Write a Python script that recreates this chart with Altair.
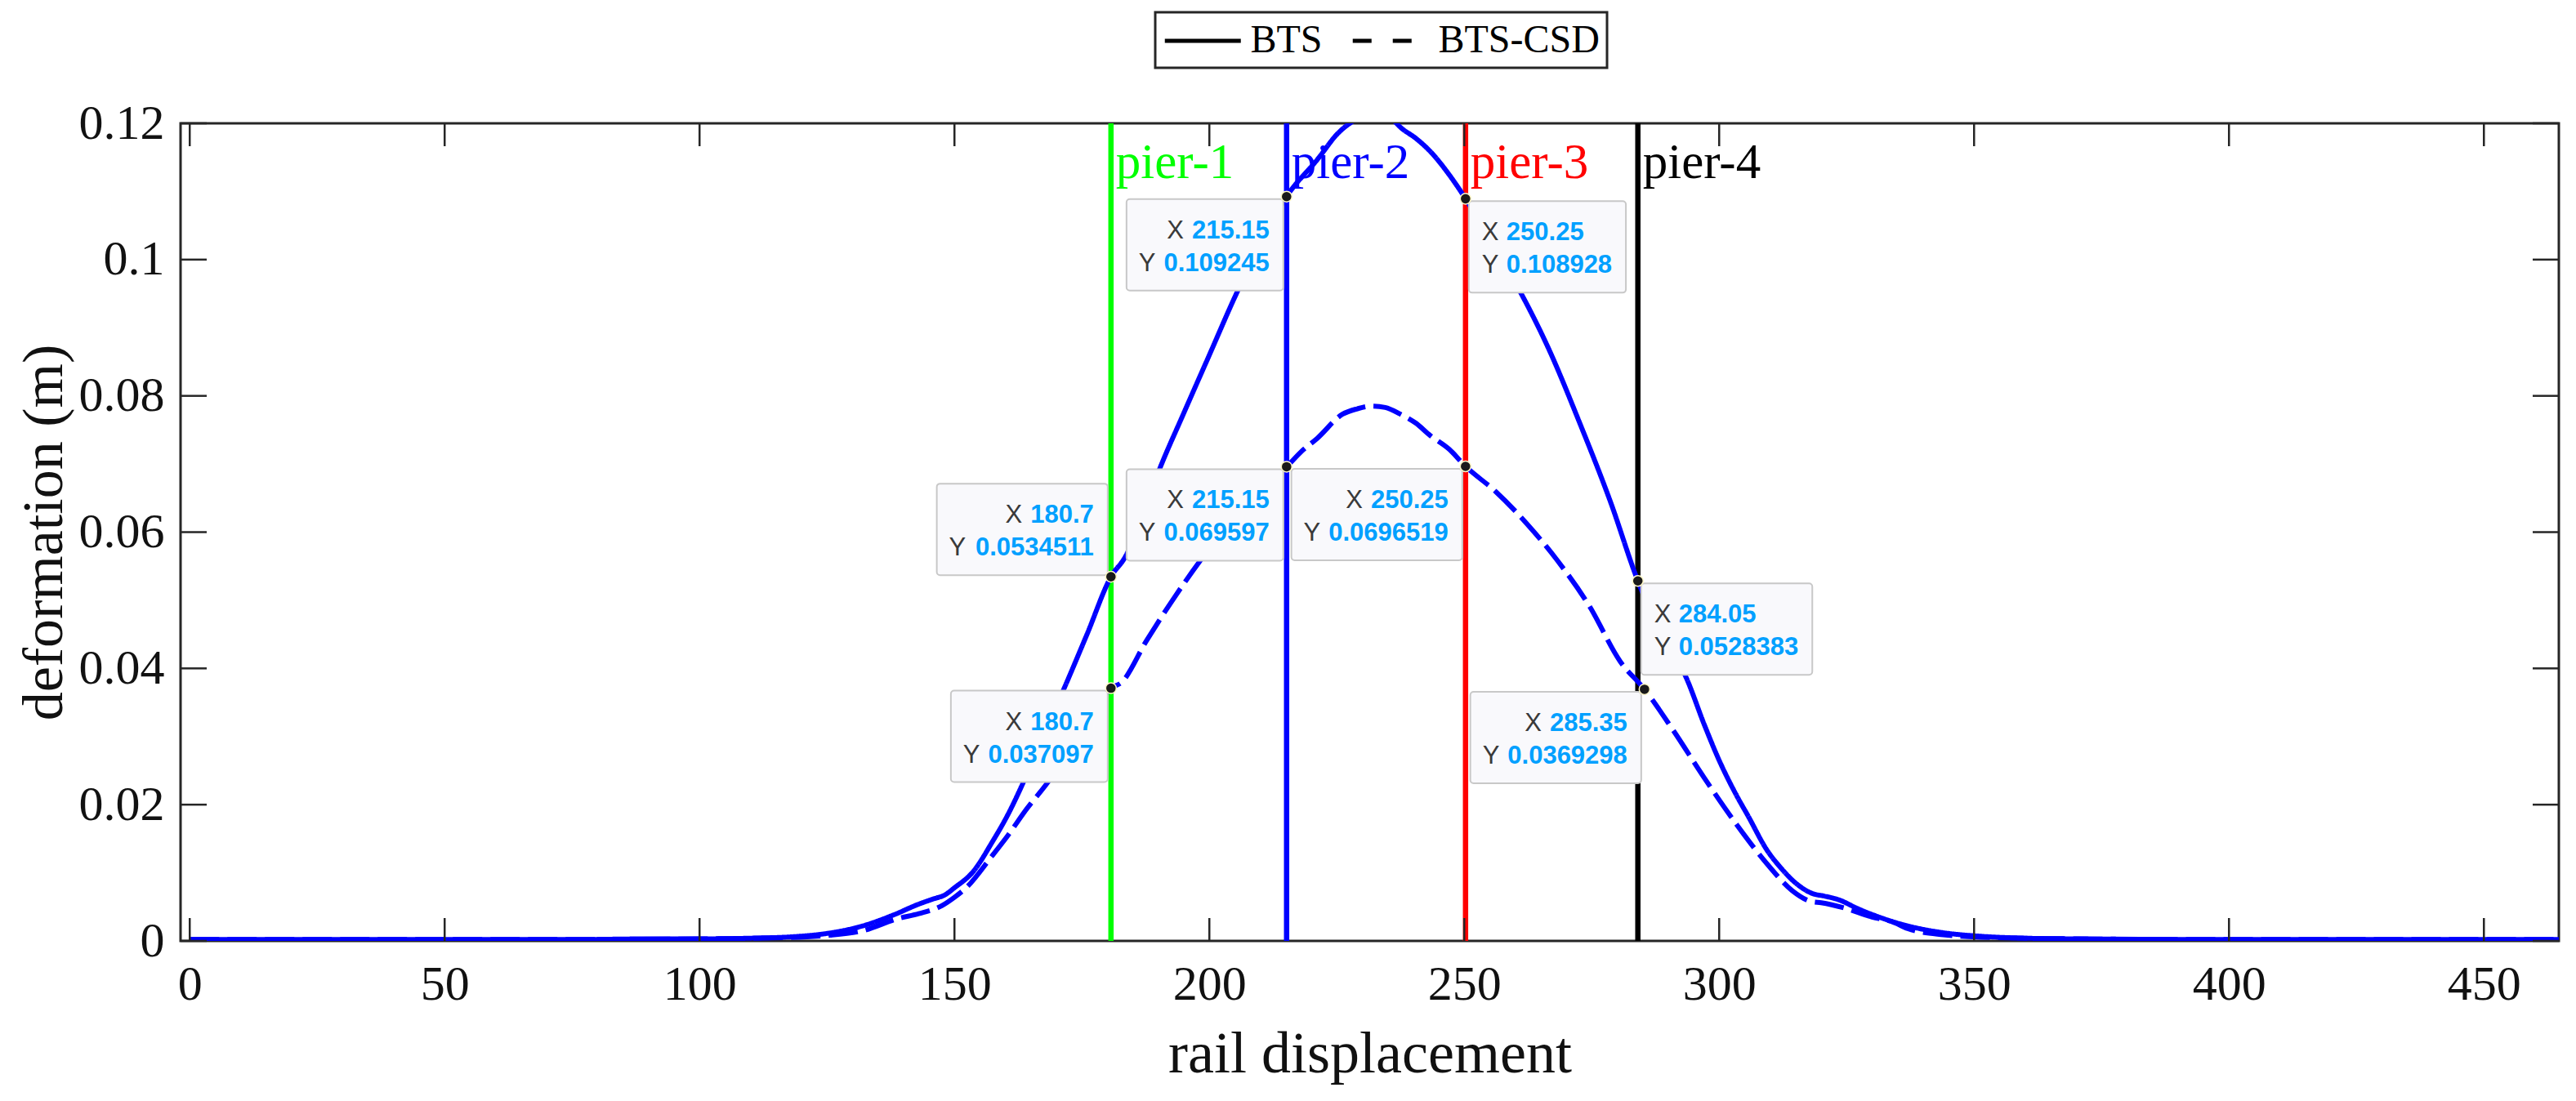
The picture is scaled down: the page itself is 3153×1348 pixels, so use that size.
import altair as alt
import pandas as pd

# curves: BTS (solid) and BTS-CSD (dashed)
bts_x = [0, 25, 50, 75, 90, 100, 110, 118, 125, 132, 138, 143, 146, 148, 150,
         153.7, 157.4, 160.8, 163.1, 167, 171.3, 176, 180.7, 183.6, 187, 190.1,
         195, 200, 205.3, 210, 215.15, 221.2, 225.3, 229.4, 232.5, 236, 237.5,
         240.5, 243.3, 247, 250.25, 255, 261.6, 266.5, 272.6, 278.7, 284.05,
         289, 293.5, 297.1, 300, 303.3, 305.7, 309.4, 312, 315, 318.5, 320.5,
         323.6, 327, 331, 337, 340, 345, 351, 360, 370, 400, 430, 465]
bts_y = [0.0002, 0.0002, 0.0002, 0.0002, 0.0003, 0.0003, 0.0004, 0.0006, 0.0011,
         0.0022, 0.0038, 0.0054, 0.0062, 0.0067, 0.0078, 0.0102, 0.0145, 0.0190,
         0.0226, 0.0295, 0.0367, 0.0450, 0.0534511, 0.0565, 0.0628, 0.0690,
         0.0775, 0.0860, 0.0950, 0.1022, 0.109245, 0.1147, 0.1186, 0.1208,
         0.1215, 0.1205, 0.1194, 0.1178, 0.1159, 0.1125, 0.108928, 0.1028,
         0.0944, 0.0870, 0.0761, 0.0644, 0.0528383, 0.0445, 0.0387, 0.0317,
         0.0265, 0.0215, 0.0183, 0.0133, 0.0108, 0.0085, 0.0069, 0.0066, 0.0060,
         0.0048, 0.0036, 0.0022, 0.0017, 0.0011, 0.0007, 0.0004, 0.0003, 0.0002,
         0.0002, 0.0002]

csd_x = [0, 50, 75, 100, 118, 125, 132, 139, 143, 147.6, 150, 152.3, 157.4,
         160.5, 164, 168.9, 172, 175.4, 178, 180.7, 182.7, 187.7, 193.4, 198.2,
         203, 208, 212, 215.15, 218, 221.2, 226.1, 229, 231.8, 234.5, 237.5,
         240.5, 243.3, 247, 250.25, 256.1, 262.2, 268.3, 274.5, 280.6, 285.35,
         291, 297.1, 303.3, 309.4, 314.3, 318, 320, 324.7, 330, 334, 337, 344,
         350, 360, 370, 400, 465]
csd_y = [0.0002, 0.0002, 0.0002, 0.0003, 0.0005, 0.0008, 0.0015, 0.0033, 0.0040,
         0.0052, 0.0064, 0.0078, 0.0125, 0.0155, 0.0192, 0.0239, 0.0276, 0.0317,
         0.0345, 0.037097, 0.0379, 0.0441, 0.0507, 0.0558, 0.0605, 0.0645,
         0.0675, 0.069597, 0.0718, 0.0738, 0.0773, 0.0781, 0.0785, 0.0783,
         0.0773, 0.0760, 0.0742, 0.0722, 0.0696519, 0.0660, 0.0613, 0.0558,
         0.0492, 0.0410, 0.0369298, 0.0309, 0.0239, 0.0172, 0.0113, 0.0074,
         0.0058, 0.0056, 0.0048, 0.0035, 0.0028, 0.0018, 0.0009, 0.0006, 0.0004,
         0.0003, 0.0002, 0.0002]

SERIES = ["BTS", "BTS-CSD"]

# pier markers
pier_names = ["pier-1", "pier-2", "pier-3", "pier-4"]
pier_x = [180.7, 215.15, 250.25, 284.05]
pier_colors = ["#00ff00", "#0000ff", "#ff0000", "#000000"]
PIER_LABEL_Y = 0.112

# datatips
tip_x = [215.15, 250.25, 180.7, 215.15, 250.25, 284.05, 180.7, 285.35]
tip_y = [0.109245, 0.108928, 0.0534511, 0.069597, 0.0696519, 0.0528383,
         0.037097, 0.0369298]
tip_side = ["L", "R", "L", "L", "L", "R", "L", "L"]
tip_vert = ["below", "below", "above", "below", "below", "below", "below", "below"]

x_ticks = [0, 50, 100, 150, 200, 250, 300, 350, 400, 450]
y_ticks = [0, 0.02, 0.04, 0.06, 0.08, 0.1, 0.12]
X_LIM = [-1.8, 464.7]
Y_LIM = [0, 0.12]

SERIF = "Liberation Serif"
SANS = "Liberation Sans"
BLUE = "#0000ff"
FRAME = "#262626"

# ---- data prep ----
curves = pd.concat([
    pd.DataFrame({"x": bts_x, "y": bts_y, "series": "BTS"}),
    pd.DataFrame({"x": csd_x, "y": csd_y, "series": "BTS-CSD"}),
])

piers = pd.DataFrame({"x": pier_x, "name": pier_names, "color": pier_colors,
                      "y": PIER_LABEL_Y})

# datatip box layout (pixel offsets from the tip point)
FS_TIP = 31
LAB_W = 0.667 * FS_TIP
BOX_H = 112


def text_w(s):
    return FS_TIP * sum(0.278 if c == "." else 0.556 for c in s)


boxes, lines = [], []
for x, y, side, vert in zip(tip_x, tip_y, tip_side, tip_vert):
    xs, ys = f"{x:g}", f"{y:g}"
    vw = max(text_w(xs), text_w(ys))
    if side == "L":
        w = 15 + LAB_W + 10 + vw + 17
        bx2 = -4
        bx1 = bx2 - w
    else:
        w = 46 + vw + 17
        bx1 = 4
        bx2 = bx1 + w
    by1 = 3 if vert == "below" else -2 - BOX_H
    by2 = by1 + BOX_H
    boxes.append({"x": x, "y": y, "bx1": bx1, "bx2": bx2, "by1": by1, "by2": by2})
    for k, (lab, val) in enumerate([("X", xs), ("Y", ys)]):
        tdy = by1 + 39 + 40 * k
        if side == "L":
            vdx = bx2 - 17
            ldx = vdx - text_w(val) - 10
            al = "right"
        else:
            ldx = bx1 + 16
            vdx = bx1 + 46
            al = "left"
        lines.append({"x": x, "y": y, "lab": lab, "val": val, "tdy": tdy,
                      "ldx": ldx, "vdx": vdx, "al": al})

boxes = pd.DataFrame(boxes)
tip_lines = pd.DataFrame(lines)

ticks_bottom = pd.DataFrame({"x": x_ticks, "y": Y_LIM[0]})
ticks_top = pd.DataFrame({"x": x_ticks, "y": Y_LIM[1]})
ticks_left = pd.DataFrame({"x": X_LIM[0], "y": y_ticks})
ticks_right = pd.DataFrame({"x": X_LIM[1], "y": y_ticks})

# ---- shared encodings ----
X = alt.X(
    "x:Q",
    scale=alt.Scale(domain=X_LIM, nice=False, zero=False),
    axis=alt.Axis(values=x_ticks, labelExpr="datum.value + ''",
                  title="rail displacement",
                  labelFont=SERIF, labelFontSize=60, labelPadding=24,
                  labelColor="#111", labelFlush=False, labelOverlap=False,
                  titleFont=SERIF, titleFontSize=72, titleFontWeight="normal",
                  titleColor="#111", titlePadding=20,
                  ticks=False, domain=False, grid=False),
)
Y = alt.Y(
    "y:Q",
    scale=alt.Scale(domain=Y_LIM, nice=False, zero=False),
    axis=alt.Axis(values=y_ticks, labelExpr="datum.value + ''",
                  title="deformation (m)",
                  labelFont=SERIF, labelFontSize=60, labelPadding=20,
                  labelColor="#111", labelFlush=False, labelOverlap=False,
                  titleFont=SERIF, titleFontSize=70, titleFontWeight="normal",
                  titleColor="#111", titlePadding=6,
                  ticks=False, domain=False, grid=False),
)

pier_rules = alt.Chart(piers).mark_rule(strokeWidth=6.5).encode(
    x=X, color=alt.Color("color:N", scale=None)
)

curve_lines = alt.Chart(curves).mark_line(
    clip=True, strokeWidth=6, color=BLUE, interpolate="monotone"
).encode(
    x=X, y=Y,
    strokeDash=alt.StrokeDash("series:N", legend=None,
                              scale=alt.Scale(domain=SERIES, range=[[1, 0], [36, 10]])),
)

# invisible copy that only carries the legend (MATLAB draws legend dashes coarser)
# custom stroke path: a 93px line whose nominal symbol size stays below the text height
SYM = 46.5
legend_lines = alt.Chart(curves).mark_line(opacity=0, strokeWidth=5).encode(
    x=X, y=Y,
    strokeDash=alt.StrokeDash(
        "series:N",
        scale=alt.Scale(domain=SERIES, range=[[1, 0], [23, 26]]),
        legend=alt.Legend(
            title=None, orient="none", legendX=1193, legendY=-136,
            direction="horizontal", symbolType="M-1,0H3", symbolSize=SYM * SYM,
            symbolStrokeWidth=5, symbolStrokeColor="black", symbolOpacity=1,
            symbolFillColor="transparent",
            labelFont=SERIF, labelFontSize=48, labelColor="black", labelLimit=500,
            labelOffset=SYM + 9, columnPadding=26, padding=9,
            strokeColor=FRAME, fillColor="white",
        ),
    ),
)

pier_labels = alt.Chart(piers).mark_text(
    align="left", baseline="alphabetic", dx=6, font=SERIF, fontSize=61
).encode(x=X, y=Y, text="name:N", color=alt.Color("color:N", scale=None))

tip_boxes = alt.Chart(boxes).mark_rect(
    fill="#f9f9fc", stroke="#c8c8c8", strokeWidth=2, cornerRadius=4,
    xOffset=alt.expr("datum.bx1"), x2Offset=alt.expr("datum.bx2"),
    yOffset=alt.expr("datum.by1"), y2Offset=alt.expr("datum.by2"),
).encode(x=X, x2="x:Q", y=Y, y2="y:Q")

tip_points = alt.Chart(boxes).mark_point(
    shape="circle", filled=True, size=170, fill="#1a1a1a", stroke="#fff8c8",
    strokeWidth=1.5, opacity=1,
).encode(x=X, y=Y)

tip_labels = alt.Chart(tip_lines).mark_text(
    font=SANS, fontSize=FS_TIP, color="#3a3a3a", baseline="middle",
    align=alt.expr("datum.al"), dx=alt.expr("datum.ldx"), dy=alt.expr("datum.tdy"),
).encode(x=X, y=Y, text="lab:N")

tip_values = alt.Chart(tip_lines).mark_text(
    font=SANS, fontSize=FS_TIP, fontWeight="bold", color="#00a0ff", baseline="middle",
    align=alt.expr("datum.al"), dx=alt.expr("datum.vdx"), dy=alt.expr("datum.tdy"),
).encode(x=X, y=Y, text="val:N")

# MATLAB-style inward ticks on all four sides
tick_style = dict(color=FRAME, strokeWidth=2.5)
tb = alt.Chart(ticks_bottom).mark_rule(y2Offset=-28, **tick_style).encode(x=X, y=Y, y2="y:Q")
tt = alt.Chart(ticks_top).mark_rule(y2Offset=28, **tick_style).encode(x=X, y=Y, y2="y:Q")
tl = alt.Chart(ticks_left).mark_rule(x2Offset=32, **tick_style).encode(x=X, x2="x:Q", y=Y)
tr = alt.Chart(ticks_right).mark_rule(x2Offset=-32, **tick_style).encode(x=X, x2="x:Q", y=Y)

chart = (
    alt.layer(pier_rules, curve_lines, legend_lines, pier_labels, tip_boxes,
              tip_points, tip_labels, tip_values, tb, tt, tl, tr)
    .resolve_scale(strokeDash="independent")
    .properties(
        width=2911, height=1001,
        autosize=alt.AutoSizeParams(type="none"),
        padding={"left": 213, "top": 143, "right": 13, "bottom": 180},
        background="white",
    )
    .configure_view(stroke=FRAME, strokeWidth=3)
    .configure_legend(strokeWidth=3)
)

chart.save("out.html", embed_options={"renderer": "svg", "actions": False})
